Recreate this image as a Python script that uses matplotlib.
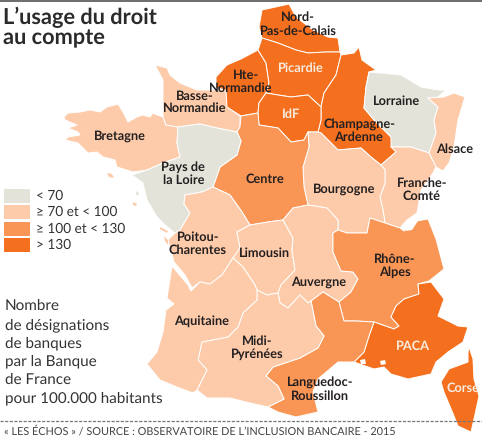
import matplotlib
matplotlib.use('Agg')
import matplotlib.pyplot as plt
from matplotlib.patches import Polygon, Rectangle

plt.rcParams['font.family'] = ['Lato', 'DejaVu Sans']
plt.rcParams['text.hinting'] = 'none'

title_lines = ["L’usage du droit", "au compte"]
legend_labels = ['< 70', '≥ 70 et < 100', '≥ 100 et < 130', '> 130']
class_colors = ['#e4e3da', '#fdcba9', '#f99656', '#f4701f']
note_lines = ['Nombre', 'de désignations', 'de banques', 'par la Banque', 'de France', 'pour 100.000 habitants']
source = "« LES ÉCHOS » / SOURCE : OBSERVATOIRE DE L’INCLUSION BANCAIRE - 2015"

# class of each region (index in legend_labels)
region_class = {
    'Nord': 3, 'Picardie': 3, 'HteNormandie': 3, 'IdF': 3, 'Champagne': 3, 'PACA': 3, 'Corse': 3,
    'Centre': 2, 'RhoneAlpes': 2, 'Languedoc': 2,
    'Bretagne': 1, 'BasseNormandie': 1, 'Alsace': 1, 'FrancheComte': 1, 'Bourgogne': 1,
    'Poitou': 1, 'Limousin': 1, 'Auvergne': 1, 'Aquitaine': 1, 'MidiPyrenees': 1,
    'Loire': 0, 'Lorraine': 0,
}

outlines = {
    'Bretagne': [(64,117),(68,113),(80,112),(90,110),(100,112),(107,107),(118,104),(123,112),(128,122),(137,117),(143,115),(150,117),(153,113),(157,115),(163,117),(166,125),(178,127),(177,143),(180,157),(163,163),(147,170),(133,172),(117,167),(115,160),(103,157),(97,152),(88,153),(78,143),(65,140),(68,137),(80,135),(78,132),(68,128),(77,125),(65,120)],
    'BasseNormandie': [(155,65),(167,68),(170,75),(180,83),(197,90),(214,90),(226,90),(227,107),(240,116),(240,127),(237,132),(217,128),(200,124),(178,127),(166,125),(163,117),(163,100),(163,80)],
    'HteNormandie': [(216,77),(227,65),(241,59),(258,50),(266,63),(269,83),(266,93),(259,103),(258,113),(241,116),(227,107),(226,90),(216,88)],
    'Nord': [(262,10),(289,4),(296,17),(313,30),(328,37),(338,38),(340,52),(326,52),(308,53),(296,50),(278,43),(262,38),(259,27)],
    'Picardie': [(262,38),(258,50),(266,63),(269,83),(266,93),(278,95),(291,97),(308,95),(321,107),(324,93),(336,75),(341,55),(340,52),(326,52),(308,53),(296,50),(278,43)],
    'Champagne': [(341,55),(354,53),(359,47),(362,60),(376,70),(369,72),(366,87),(364,108),(374,120),(391,137),(396,152),(381,165),(371,157),(361,148),(338,150),(321,133),(318,132),(321,120),(321,107),(324,93),(336,75)],
    'IdF': [(266,93),(278,95),(291,97),(308,95),(321,107),(321,120),(318,132),(308,132),(304,140),(291,142),(278,128),(259,125),(258,113),(259,103)],
    'Lorraine': [(369,72),(381,73),(401,75),(421,87),(438,90),(446,90),(438,97),(428,98),(438,107),(434,120),(436,133),(429,153),(411,147),(391,147),(391,137),(374,120),(364,108),(366,87)],
    'Alsace': [(428,98),(444,97),(454,93),(465,97),(458,120),(454,147),(449,163),(443,171),(436,167),(429,153),(436,133),(434,120),(438,107)],
    'FrancheComte': [(381,165),(396,152),(391,147),(411,147),(429,153),(436,167),(433,173),(421,190),(417,213),(407,220),(400,228),(385,223),(383,210),(380,197),(385,183),(385,170)],
    'Bourgogne': [(308,132),(318,132),(321,133),(338,150),(361,148),(371,157),(381,165),(385,170),(385,183),(380,197),(383,210),(385,223),(370,218),(367,233),(347,233),(338,230),(338,220),(327,208),(308,205),(304,187),(303,167),(309,147)],
    'Centre': [(241,116),(258,113),(259,125),(278,128),(291,142),(304,140),(308,132),(309,147),(303,167),(304,187),(308,205),(293,208),(283,220),(268,222),(250,225),(242,212),(230,195),(213,187),(220,167),(237,155),(241,141),(237,132),(240,127)],
    'Loire': [(178,127),(200,124),(217,128),(237,132),(241,141),(237,155),(220,167),(213,187),(202,192),(185,195),(184,204),(190,213),(180,230),(175,233),(166,226),(157,217),(147,200),(143,183),(132,175),(147,170),(163,163),(180,157),(177,143)],
    'Poitou': [(185,195),(202,192),(213,187),(230,195),(242,212),(250,225),(237,232),(240,248),(233,258),(222,275),(210,284),(200,282),(192,288),(185,275),(174,262),(168,240),(175,233),(180,230),(190,213),(184,204)],
    'Limousin': [(237,232),(250,225),(268,222),(283,220),(293,238),(292,250),(295,270),(281,285),(278,293),(267,295),(257,290),(255,285),(243,267),(233,258),(240,248)],
    'Auvergne': [(283,220),(293,208),(308,205),(327,208),(338,220),(338,230),(333,233),(333,252),(341,271),(353,272),(358,279),(351,292),(339,302),(323,292),(311,301),(308,303),(300,295),(288,308),(280,303),(278,293),(281,285),(295,270),(292,250),(293,238)],
    'RhoneAlpes': [(333,233),(338,230),(347,233),(367,233),(370,218),(385,223),(400,228),(404,231),(411,222),(428,219),(436,239),(444,269),(429,281),(418,284),(419,294),(404,299),(396,306),(391,317),(399,326),(394,329),(374,322),(356,321),(344,321),(339,302),(351,292),(358,279),(353,272),(341,271),(333,252)],
    'PACA': [(418,284),(431,282),(444,299),(438,316),(458,326),(468,327),(463,342),(448,352),(436,362),(431,374),(408,379),(391,374),(384,367),(374,369),(354,362),(364,352),(369,336),(374,322),(394,329),(399,326),(391,317),(396,306),(404,299),(419,294)],
    'Corse': [(469,347),(473,359),(474,379),(479,396),(474,419),(471,432),(458,426),(454,416),(444,392),(441,382),(449,369),(468,362),(468,352)],
    'Languedoc': [(311,301),(323,292),(339,302),(344,321),(356,321),(374,322),(369,336),(364,352),(354,362),(338,362),(318,379),(313,392),(318,412),(296,417),(278,412),(268,407),(284,399),(278,386),(266,376),(273,367),(300,358),(318,348),(324,336),(316,326)],
    'MidiPyrenees': [(257,290),(267,295),(278,293),(280,303),(288,308),(300,295),(308,303),(311,301),(316,326),(324,336),(318,348),(300,358),(273,367),(266,376),(278,386),(284,399),(268,407),(250,403),(230,398),(207,398),(197,390),(207,370),(198,360),(202,342),(228,337),(238,327),(243,313),(257,300)],
    'Aquitaine': [(172,266),(188,285),(191,291),(200,282),(210,284),(222,275),(233,258),(243,267),(255,285),(257,290),(257,300),(243,313),(238,327),(228,337),(202,342),(198,360),(207,370),(197,390),(193,393),(177,387),(160,380),(147,364),(157,352),(163,332),(166,310),(174,304),(167,298)],
}

# small islands, the lake and the lagoons on the Provence coast
islands = {
    'Belle': ([(107,173),(112,174),(114,178),(109,177)], 1),
    'Ile1': ([(133,202),(137,204),(136,206),(133,205)], 1),
    'Noirmoutier': ([(136,191),(139,193),(138,196),(136,194)], 0),
    'Re': ([(160,227),(168,231),(167,233),(160,229)], 1),
    'Oleron': ([(164,236),(168,240),(168,245),(165,241)], 1),
}
water = [
    [(417,212),(420,218),(412,230),(405,231),(409,222)],
    [(360,360),(365,359),(366,364),(361,364)],
    [(380,361),(385,360),(386,364),(381,365)],
]

# labels: text, x, y, colour
labels = [
    ('Nord-', 298, 17, 'k'), ('Pas-de-Calais', 298, 31, 'k'),
    ('Picardie', 301, 68, 'w'),
    ('Hte-', 246, 75, 'k'), ('Normandie', 241, 88, 'k'),
    ('Basse-', 195, 96, 'k'), ('Normandie', 195, 108, 'k'),
    ('Bretagne', 120, 136, 'k'),
    ('Pays de', 183, 167, 'k'), ('la Loire', 184, 180, 'k'),
    ('IdF', 291, 114, 'w'),
    ('Lorraine', 397, 101, 'k'),
    ('Champagne-', 359, 125, 'k'), ('Ardenne', 359, 137, 'k'),
    ('Alsace', 455, 149, 'k'),
    ('Centre', 265, 179, 'k'),
    ('Bourgogne', 344, 189, 'k'),
    ('Franche-', 422, 183, 'k'), ('Comté', 422, 196, 'k'),
    ('Poitou-', 198, 237, 'k'), ('Charentes', 198, 250, 'k'),
    ('Limousin', 265, 253, 'k'),
    ('Auvergne', 319, 282, 'k'),
    ('Rhône-', 395, 259, 'k'), ('Alpes', 395, 272, 'k'),
    ('Aquitaine', 202, 321, 'k'),
    ('Midi-', 257, 341, 'k'), ('Pyrénées', 257, 354, 'k'),
    ('Languedoc-', 320, 383, 'k'), ('Roussillon', 320, 396, 'k'),
    ('PACA', 413, 346, 'w'),
    ('Corse', 463, 388, 'w'),
]

fig = plt.figure(figsize=(4.82, 4.37), dpi=100)
ax = fig.add_axes([0, 0, 1, 1])
ax.set_xlim(0, 482)
ax.set_ylim(437, 0)
ax.axis('off')

# top bar
ax.add_patch(Rectangle((0, 0), 482, 2, color='#6f6f6f', lw=0))

for name, pts in outlines.items():
    ax.add_patch(Polygon(pts, closed=True, facecolor=class_colors[region_class[name]],
                         edgecolor='white', lw=0.7, joinstyle='round'))
for name, (pts, cl) in islands.items():
    ax.add_patch(Polygon(pts, closed=True, facecolor=class_colors[cl], edgecolor='none'))
for pts in water:
    ax.add_patch(Polygon(pts, closed=True, facecolor='white', edgecolor='none'))

for txt, x, y, col in labels:
    ax.text(x, y, txt, ha='center', va='center', fontsize=9.2, fontweight='bold',
            color='#f8ece0' if col == 'w' else '#231f20')

# title
for y, line in zip([17, 38], title_lines):
    ax.text(3, y, line, ha='left', va='center', fontsize=15.7, fontweight='bold', color='#2a2a2a')

# legend
swatch_y = [189, 205, 222, 238]
for i, lab in enumerate(legend_labels):
    ax.add_patch(Rectangle((4, swatch_y[i]), 26, 13.5, color=class_colors[i], lw=0))
    ax.text(36, swatch_y[i] + 7, lab, ha='left', va='center', fontsize=9.8, color='#333333')

# note
note_y = [306, 325, 343, 361, 380, 398]
for y, line in zip(note_y, note_lines):
    ax.text(5, y, line, ha='left', va='center', fontsize=11, color='#333333')

# footer
ax.plot([0, 482], [421, 421], color='#777777', lw=0.9, dashes=(2.5, 1.2))
ax.text(4, 431, source, ha='left', va='center', fontsize=7.8, color='#444444')

fig.savefig('out.png', dpi=100)
plt.close()
